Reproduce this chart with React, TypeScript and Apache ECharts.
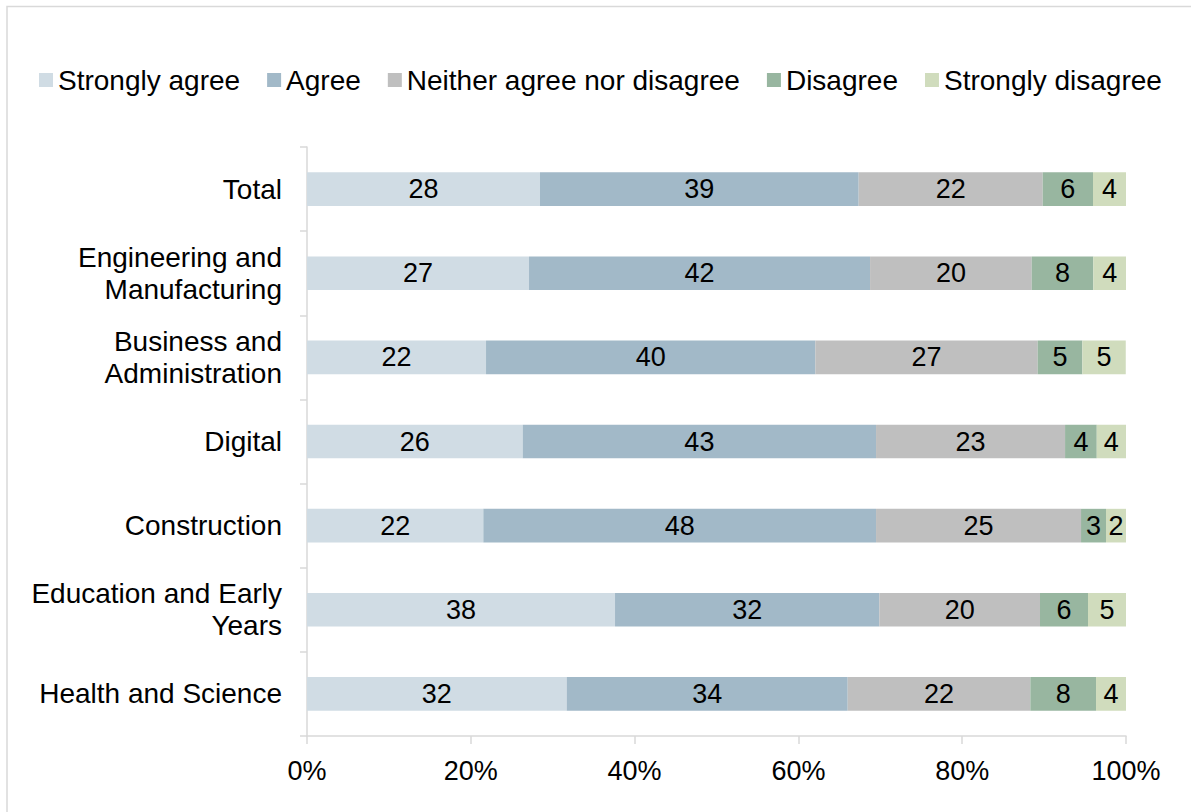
import React, { useEffect, useRef } from "react";
import * as echarts from "echarts";

const categories = [
  "Total",
  "Engineering and\nManufacturing",
  "Business and\nAdministration",
  "Digital",
  "Construction",
  "Education and Early\nYears",
  "Health and Science",
];

const seriesNames = [
  "Strongly agree",
  "Agree",
  "Neither agree nor disagree",
  "Disagree",
  "Strongly disagree",
];

const stronglyAgree = [28.45, 27.11, 21.86, 26.34, 21.53, 37.61, 31.71];
const agree = [38.91, 41.64, 40.21, 43.14, 47.95, 32.27, 34.31];
const neither = [22.47, 19.74, 27.15, 23.08, 25.03, 19.62, 22.3];
const disagree = [6.14, 7.52, 5.45, 3.87, 3.05, 5.86, 8.02];
const stronglyDisagree = [4.03, 3.99, 5.3, 3.58, 2.44, 4.64, 3.66];

const xTicks = [0, 20, 40, 60, 80, 100];

const colors = ["#D0DCE4", "#A2B9C8", "#BFBFBF", "#98B6A0", "#D0DCBD"];

const FONT = "'Liberation Sans', Arial, sans-serif";

export default function App() {
  const ref = useRef<HTMLDivElement>(null);

  useEffect(() => {
    if (!ref.current) return;
    const chart = echarts.init(ref.current, undefined, { renderer: "svg" });
    const values = [stronglyAgree, agree, neither, disagree, stronglyDisagree];
    chart.setOption({
      animation: false,
      textStyle: { fontFamily: FONT },
      graphic: [
        {
          type: "rect",
          shape: { x: 7, y: 6.5, width: 1250, height: 900 },
          style: { fill: "none", stroke: "#D9D9D9", lineWidth: 1.5 },
          silent: true,
        },
      ],
      legend: {
        left: 34,
        top: 61,
        itemWidth: 14,
        itemHeight: 14,
        itemGap: 27,
        icon: "rect",
        textStyle: { fontSize: 28, color: "#000", fontFamily: FONT },
        data: seriesNames,
      },
      grid: { left: 307, right: 65, top: 147, bottom: 76, containLabel: false },
      xAxis: {
        type: "value",
        min: 0,
        max: 100,
        interval: 20,
        axisLine: { show: true, lineStyle: { color: "#D9D9D9", width: 1.5 } },
        axisTick: { show: true, length: 8, lineStyle: { color: "#D9D9D9", width: 1.5 } },
        splitLine: { show: false },
        axisLabel: {
          fontSize: 27,
          color: "#000",
          margin: 21,
          fontFamily: FONT,
          formatter: (v: number) => (xTicks.includes(v) ? v + "%" : ""),
        },
      },
      yAxis: {
        type: "category",
        inverse: true,
        data: categories,
        axisLine: { show: true, lineStyle: { color: "#D9D9D9", width: 1.5 } },
        axisTick: { show: true, length: 7, lineStyle: { color: "#D9D9D9", width: 1.5 } },
        axisLabel: {
          fontSize: 28,
          color: "#000",
          margin: 25,
          lineHeight: 32,
          align: "right",
          fontFamily: FONT,
        },
      },
      series: seriesNames.map((name, i) => ({
        name,
        type: "bar",
        stack: "total",
        barCategoryGap: "60%",
        itemStyle: { color: colors[i] },
        label: {
          show: true,
          position: "inside",
          color: "#000",
          fontSize: 27,
          fontFamily: FONT,
          formatter: (p: any) => String(Math.round(p.value)),
        },
        data: values[i],
      })),
    });
    return () => chart.dispose();
  }, []);

  return (
    <div
      ref={ref}
      style={{ position: "fixed", left: 0, top: 0, width: 1191, height: 812, background: "#fff" }}
    />
  );
}
